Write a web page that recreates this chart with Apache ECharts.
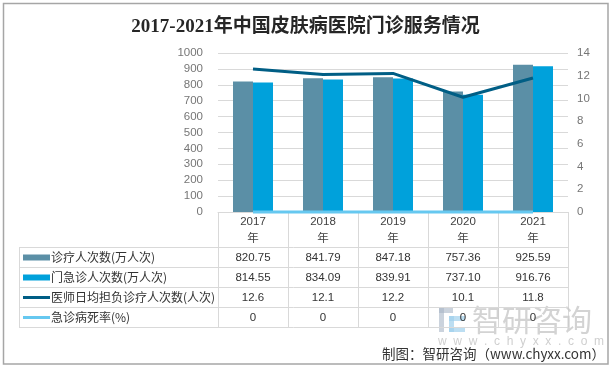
<!DOCTYPE html>
<html><head><meta charset="utf-8">
<script src="https://cdn.jsdelivr.net/npm/echarts@6/dist/echarts.min.js"></script>
<style>html,body{margin:0;padding:0;background:#fff}#c{width:611px;height:368px}</style>
</head><body><div id="c"></div>
<script>
const years = ['2017','2018','2019','2020','2021'];
const visits = [820.75, 841.79, 847.18, 757.36, 925.59];
const emergencyVisits = [814.55, 834.09, 839.91, 737.10, 916.76];
const doctorLoad = [12.6, 12.1, 12.2, 10.1, 11.8];
const mortality = [0, 0, 0, 0, 0];
const leftTicks = {min: 0, max: 1000, interval: 100};
const rightTicks = {min: 0, max: 14, interval: 2};
const seriesNames = ['诊疗人次数(万人次)', '门急诊人次数(万人次)', '医师日均担负诊疗人次数(人次)', '急诊病死率(%)'];
const colors = ['#5B8FA6', '#00A1DB', '#005E85', '#66C8F0'];

const chart = echarts.init(document.getElementById('c'), null, {renderer: 'canvas'});
const numFont = "'Liberation Sans','Noto Sans CJK SC',sans-serif";
chart.setOption({
  backgroundColor: '#fff',
  animation: false,
  title: {
    text: '2017-2021年中国皮肤病医院门诊服务情况',
    left: 'center', top: 13,
    textStyle: {fontSize: 19, fontWeight: 'bold', color: '#262626',
      fontFamily: "'Liberation Serif','Noto Sans CJK SC',serif"}
  },
  grid: {left: 218, right: 43, top: 53, bottom: 156},
  xAxis: {
    type: 'category', data: years,
    axisLine: {lineStyle: {color: '#d9d9d9', width: 1}},
    axisTick: {show: true, length: 115, lineStyle: {color: '#d9d9d9'}},
    axisLabel: {formatter: v => v + '\n年', margin: 1, lineHeight: 17,
      fontSize: 11.5, color: '#404040', fontFamily: numFont}
  },
  yAxis: [
    {type: 'value', min: leftTicks.min, max: leftTicks.max, interval: leftTicks.interval,
     axisLine: {show: false}, axisTick: {show: false},
     splitLine: {lineStyle: {color: '#d9d9d9'}},
     axisLabel: {formatter: v => String(v), margin: 15, fontSize: 11.5, color: '#767676', fontFamily: numFont}},
    {type: 'value', min: rightTicks.min, max: rightTicks.max, interval: rightTicks.interval,
     axisLine: {show: false}, axisTick: {show: false}, splitLine: {show: false},
     axisLabel: {formatter: v => String(v), margin: 9, fontSize: 11.5, color: '#767676', fontFamily: numFont}}
  ],
  series: [
    {name: seriesNames[0], type: 'bar', data: visits, barWidth: 20, barGap: '0%',
     itemStyle: {color: colors[0]}, z: 2},
    {name: seriesNames[1], type: 'bar', data: emergencyVisits, barWidth: 20, barGap: '0%',
     itemStyle: {color: colors[1]}, z: 2},
    {name: seriesNames[2], type: 'line', yAxisIndex: 1, data: doctorLoad, symbol: 'none',
     lineStyle: {color: colors[2], width: 3}, itemStyle: {color: colors[2]}, z: 4},
    {name: seriesNames[3], type: 'line', yAxisIndex: 1, data: mortality, symbol: 'none', clip: false,
     lineStyle: {color: colors[3], width: 3}, itemStyle: {color: colors[3]}, z: 3}
  ]
});

// Data table built from the arrays, positioned with the library's category scale
const rowTexts = [
  visits.map(v => v.toFixed(2)),
  emergencyVisits.map(v => v.toFixed(2)),
  doctorLoad.map(v => v.toFixed(1)),
  mortality.map(v => String(v))
];
const rowTops = [247, 267, 287, 307, 327];
const tableLeft = 19, tableRight = 568, colStart = 218;
const g = [];
g.push({type: 'rect', shape: {x: 3.5, y: 3.5, width: 604.5, height: 360.5},
  style: {fill: null, stroke: '#a6a6a6', lineWidth: 1.5}, z: 100});
rowTops.forEach(y => g.push({type: 'line', shape: {x1: tableLeft, y1: y + 0.5, x2: tableRight, y2: y + 0.5},
  style: {stroke: '#d9d9d9', lineWidth: 1}, z: 50}));
[tableLeft, colStart].forEach(x => g.push({type: 'line', shape: {x1: x + 0.5, y1: rowTops[0], x2: x + 0.5, y2: rowTops[4]},
  style: {stroke: '#d9d9d9', lineWidth: 1}, z: 50}));
seriesNames.forEach((name, r) => {
  const cy = (rowTops[r] + rowTops[r + 1]) / 2 + 0.5;
  const h = r < 2 ? 6 : 3;
  g.push({type: 'rect', shape: {x: 23, y: cy - h / 2, width: 27, height: h}, style: {fill: colors[r]}, z: 60});
  g.push({type: 'text', x: 51, y: cy, style: {text: name, fill: '#333', fontSize: 12,
    fontFamily: "'Noto Sans CJK SC',sans-serif", verticalAlign: 'middle', align: 'left'}, z: 60});
  years.forEach((yr, i) => {
    const cx = chart.convertToPixel({xAxisIndex: 0}, i);
    g.push({type: 'text', x: cx, y: cy, style: {text: rowTexts[r][i], fill: '#333', fontSize: 11.5,
      fontFamily: numFont, align: 'center', verticalAlign: 'middle'}, z: 60});
  });
});
// watermark
g.push({type: 'rect', shape: {x: 439, y: 308, width: 14, height: 5}, style: {fill: '#a9b6c6', opacity: 0.6}, z: 40});
g.push({type: 'rect', shape: {x: 439, y: 308, width: 5, height: 24}, style: {fill: '#a9b6c6', opacity: 0.6}, z: 40});
g.push({type: 'rect', shape: {x: 449, y: 316, width: 16, height: 5}, style: {fill: '#9fd0ec', opacity: 0.7}, z: 40});
g.push({type: 'rect', shape: {x: 449, y: 327, width: 16, height: 5}, style: {fill: '#9fd0ec', opacity: 0.7}, z: 40});
g.push({type: 'rect', shape: {x: 449, y: 316, width: 5, height: 16}, style: {fill: '#9fd0ec', opacity: 0.7}, z: 40});
g.push({type: 'text', x: 472, y: 320, style: {text: '智研咨询', fill: '#c8c8c8', opacity: 0.8, fontSize: 30,
  fontFamily: "'Noto Sans CJK SC',sans-serif", verticalAlign: 'middle'}, z: 40});
g.push({type: 'text', x: 438, y: 342, style: {text: 'w  w  w  .  c  h  y  x  x  .  c  o  m', fill: '#cfcfcf', fontSize: 12,
  fontFamily: numFont, verticalAlign: 'middle'}, z: 40});
g.push({type: 'text', x: 605, y: 354, style: {text: '制图：智研咨询（www.chyxx.com）', fill: '#333', fontSize: 13.5,
  fontFamily: "'Noto Sans CJK SC',sans-serif", align: 'right', verticalAlign: 'middle'}, z: 60});
chart.setOption({graphic: g});
</script></body></html>
